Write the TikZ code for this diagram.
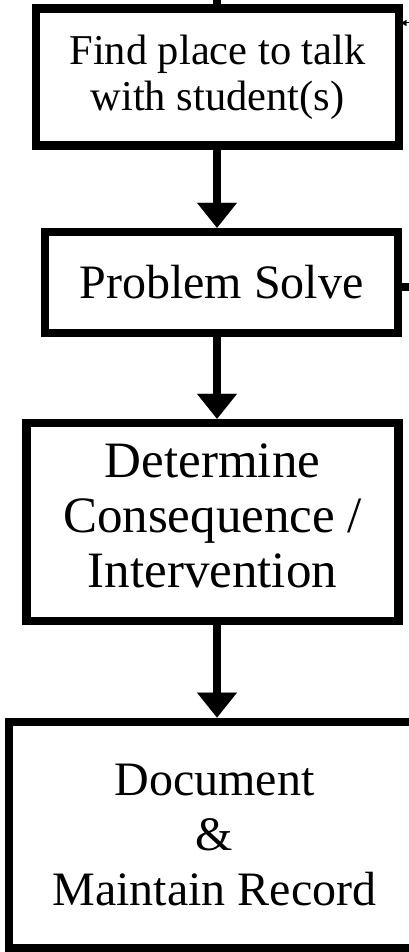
\documentclass[tikz,border=0pt]{standalone}
\usepackage{fontspec}
\setmainfont{Liberation Serif}
\usetikzlibrary{arrows.meta}
\begin{document}
\begin{tikzpicture}[x=1pt,y=1pt,yscale=-1,
  stepbox/.style={draw,rectangle,line width=8.5pt,align=center,inner sep=0pt,
    font=\fontsize{48}{55}\selectfont},
  flow/.style={line width=8pt,-{Triangle[width=40pt,length=25pt,line width=0.01pt]}},
  stub/.style={line width=8pt},
  backin/.style={line width=1pt,-{Triangle[width=6pt,length=5pt,line width=0.01pt]}}]
\clip (0,0) rectangle (409,952);

%Boxes
\node[stepbox,minimum width=363pt,minimum height=137pt,font=\fontsize{42.5}{46}\selectfont] (talk) at (217.5,77) {Find place to talk\\with student(s)};
\node[stepbox,minimum width=353pt,minimum height=101pt] (solve) at (221.5,282.5) {Problem Solve};
\node[stepbox,minimum width=372pt,minimum height=198pt,text depth=12pt,font=\fontsize{51}{55}\selectfont] (decide) at (212.5,522) {Determine\\Consequence /\\Intervention};
\node[stepbox,minimum width=411pt,minimum height=226.5pt] (record) at (214.5,835) {Document\\\&\\Maintain Record};

%Spine and loose ends
\coordinate (spine) at (217,-10);
\coordinate (loopout) at (430,287);
\coordinate (loopin) at (430,23);

%Connectors
\draw[stub] (spine) -- (spine |- talk.north);
\draw[flow] (spine |- talk.south) -- (spine |- solve.north);
\draw[flow] (spine |- solve.south) -- (spine |- decide.north);
\draw[flow] (spine |- decide.south) -- (spine |- record.north);
\draw[stub] (solve.east |- loopout) -- (loopout);
\draw[backin,shorten >=-2pt] (loopin) -- (talk.east |- loopin);

\end{tikzpicture}
\end{document}
